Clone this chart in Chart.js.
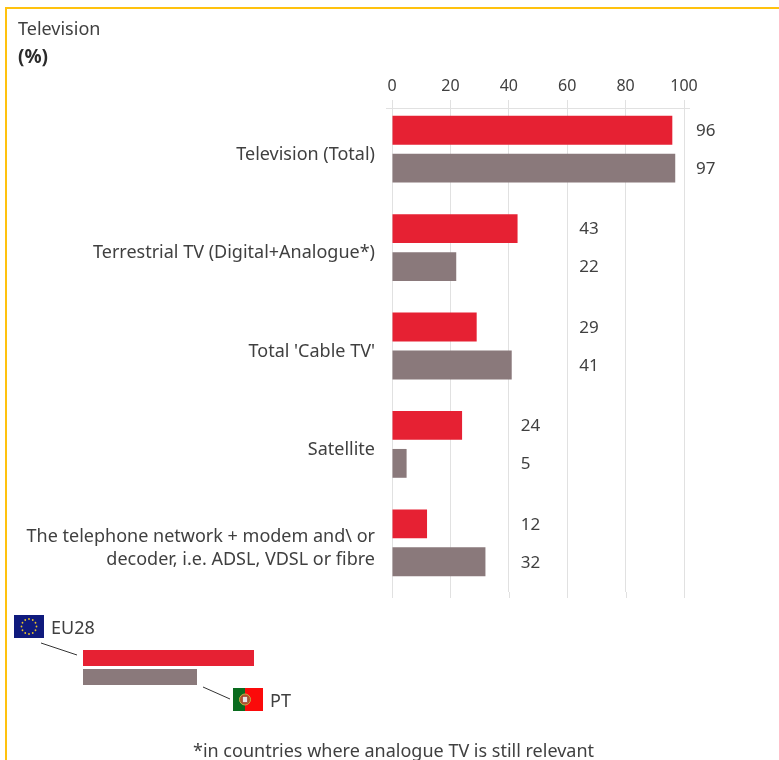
<!DOCTYPE html>
<html>
<head>
<meta charset="utf-8">
<title>Television</title>
<script src="https://cdn.jsdelivr.net/npm/chart.js@4"></script>
<style>
  html, body { margin: 0; padding: 0; background: #fff; }
  body { position: relative; width: 779px; height: 760px; overflow: hidden; font-family: "Noto Sans", sans-serif; color: #404040; }
  #frame { position: absolute; left: 5px; top: 7px; width: 780px; height: 780px; border: 2px solid #ffc20e; box-sizing: border-box; }
  #chart { position: absolute; left: 0; top: 0; }
  #overlay { position: absolute; left: 0; top: 0; }
  .txt { position: absolute; font-size: 18px; line-height: 24px; white-space: nowrap; }
</style>
</head>
<body>
<div id="frame"></div>
<canvas id="chart" width="779" height="760"></canvas>
<svg id="overlay" width="779" height="760">
  <rect x="83" y="650" width="171" height="16" fill="#e62133"/>
  <rect x="83" y="669" width="114" height="16" fill="#8a797b"/>
  <line x1="41" y1="643" x2="77" y2="655" stroke="#333" stroke-width="1"/>
  <line x1="203" y1="687" x2="230" y2="699" stroke="#333" stroke-width="1"/>
  <rect x="14" y="615" width="30" height="23" fill="#0f1a7d"/>
  <g id="stars" fill="#e8c32a"></g>
  <rect x="233" y="688" width="12" height="23" fill="#0a6b1e"/>
  <rect x="245" y="688" width="18" height="23" fill="#fb0a0a"/>
  <circle cx="245" cy="699.5" r="5.5" fill="#a8562c" stroke="#c9a94a" stroke-width="1"/>
  <rect x="242.5" y="696.5" width="5" height="6" fill="#e8e8e8" stroke="#a03020" stroke-width="0.6"/>
</svg>
<div class="txt" style="left:18px;top:16px">Television</div>
<div class="txt" style="left:18px;top:44px;font-weight:700;font-size:19px;color:#2b2b2b">(%)</div>
<div class="txt" style="left:51px;top:615px">EU28</div>
<div class="txt" style="left:270px;top:688px">PT</div>
<div class="txt" style="left:193px;top:738px">*in countries where analogue TV is still relevant</div>
<script>
const categories = [
  "Television (Total)",
  "Terrestrial TV (Digital+Analogue*)",
  "Total 'Cable TV'",
  "Satellite",
  ["The telephone network + modem and\\ or", "decoder, i.e. ADSL, VDSL or fibre"]
];
const eu28 = [96, 43, 29, 24, 12];
const pt = [97, 22, 41, 5, 32];
const xTicks = [0, 20, 40, 60, 80, 100];

// EU flag stars
const stars = document.getElementById("stars");
for (let i = 0; i < 12; i++) {
  const a = i * Math.PI / 6;
  const c = document.createElementNS("http://www.w3.org/2000/svg", "circle");
  c.setAttribute("cx", 29 + 7.5 * Math.cos(a));
  c.setAttribute("cy", 626.5 + 7.5 * Math.sin(a));
  c.setAttribute("r", 0.9);
  stars.appendChild(c);
}

const textColor = "#404040";
const gridColor = "#e1e1e1";

// value labels sit 12px right of the next gridline past the group's longest bar
const valueLabels = {
  id: "valueLabels",
  afterDatasetsDraw(chart) {
    const { ctx, scales } = chart;
    ctx.save();
    ctx.font = "17px 'Noto Sans'";
    ctx.fillStyle = textColor;
    ctx.textBaseline = "middle";
    chart.data.datasets.forEach((ds, d) => {
      chart.getDatasetMeta(d).data.forEach((bar, i) => {
        const top = Math.ceil(Math.max(eu28[i], pt[i]) / 20) * 20;
        ctx.fillText(ds.data[i], scales.x.getPixelForValue(top) + 12, bar.y + 1);
      });
    });
    ctx.restore();
  }
};

// horizontal axis line below the ticks, and gridlines running slightly past the plot
const axisLine = {
  id: "axisLine",
  beforeDatasetsDraw(chart) {
    const { ctx, chartArea, scales } = chart;
    ctx.save();
    ctx.strokeStyle = gridColor;
    ctx.lineWidth = 1;
    ctx.beginPath();
    ctx.moveTo(chartArea.left - 6, chartArea.top + 8.5);
    ctx.lineTo(chartArea.right + 6, chartArea.top + 8.5);
    xTicks.forEach(t => {
      const x = Math.round(scales.x.getPixelForValue(t)) + 0.5;
      ctx.moveTo(x, chartArea.bottom);
      ctx.lineTo(x, chartArea.bottom + 6);
    });
    ctx.stroke();
    ctx.restore();
  }
};

new Chart(document.getElementById("chart"), {
  type: "bar",
  data: {
    labels: categories,
    datasets: [
      { label: "EU28", data: eu28, backgroundColor: "#e62133" },
      { label: "PT", data: pt, backgroundColor: "#8a797b" }
    ]
  },
  options: {
    indexAxis: "y",
    responsive: false,
    animation: false,
    layout: { padding: { left: 0, right: 95, top: 0, bottom: 168 } },
    categoryPercentage: 0.771,
    barPercentage: 0.76,
    plugins: { legend: { display: false }, tooltip: { enabled: false } },
    scales: {
      x: {
        position: "top",
        min: 0,
        max: 100,
        afterBuildTicks(scale) { scale.ticks = xTicks.map(value => ({ value })); },
        afterFit(scale) { scale.height = 100; },
        grid: { color: gridColor, drawTicks: false },
        border: { display: false },
        ticks: { color: textColor, font: { family: "Noto Sans", size: 16 }, padding: 4, maxRotation: 0 }
      },
      y: {
        afterFit(scale) { scale.width = 392; },
        grid: { display: false, drawTicks: false },
        border: { display: false },
        ticks: { color: textColor, font: { family: "Noto Sans", size: 18, lineHeight: 1.28 }, padding: 17, labelOffset: 5.5 }
      }
    }
  },
  plugins: [axisLine, valueLabels]
});
</script>
</body>
</html>
